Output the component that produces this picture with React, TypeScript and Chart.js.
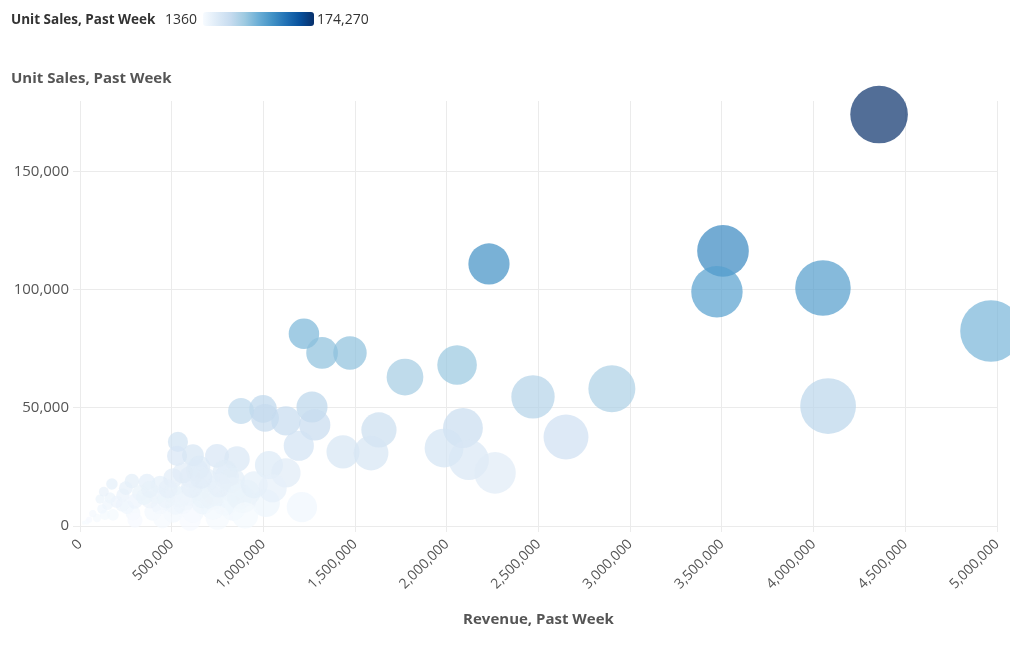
import React, { useEffect, useRef } from "react";
import { Chart, registerables } from "chart.js";

Chart.register(...registerables);

// Revenue, past week (x)
const revenue: number[] = [
  4357000, 3506000, 3473000, 4051000, 4967000, 4079000, 2230000, 1221000, 1320000, 1472000,
  1772000, 2056000, 2470000, 2900000, 2650000, 2088000, 1630000, 1985000, 2120000, 2263000,
  1434000, 1587000, 1265000, 998000, 878000, 1009000, 1123000, 1280000, 1193000, 1030000,
  1123000, 1014000, 1210000, 747000, 856000, 534000, 529000, 616000, 650000, 638000,
  790000, 174000, 283000, 365000, 436000, 507000, 600000, 690000, 800000, 830000,
  109000, 164000, 234000, 327000, 420000, 507000, 583000, 654000, 725000, 834000,
  910000, 834000, 725000, 616000, 507000, 398000, 289000, 180000, 93000, 38000,
  256000, 436000, 670000, 20000, 545000, 670000, 890000, 380000, 230000, 136000,
  520000, 790000, 50000, 70000, 120000, 150000, 200000, 300000, 350000, 470000,
  560000, 610000, 720000, 760000, 870000, 950000, 300000, 450000, 600000, 750000,
  900000, 1050000, 380000, 480000, 250000, 130000, 660000, 560000,
];

// Unit sales, past week (y)
const units: number[] = [
  174270, 116500, 99200, 100800, 82600, 50800, 111000, 81400, 73300, 73300,
  63100, 68200, 54700, 58100, 37700, 41500, 40700, 33000, 28000, 22500,
  31400, 30900, 50400, 49600, 48700, 45800, 44500, 42800, 34000, 25800,
  22500, 9700, 8000, 29700, 28400, 35600, 29700, 30000, 25000, 23700,
  22900, 17800, 19000, 18600, 17400, 20300, 20800, 19500, 20800, 19500,
  11400, 11900, 13100, 14000, 13100, 14000, 13100, 15300, 14000, 15300,
  14000, 7600, 7600, 5900, 5500, 5900, 5500, 4700, 3400, 1700,
  8000, 8900, 9700, 1360, 12300, 12300, 11000, 11000, 8900, 4700,
  9000, 9700, 2600, 5200, 7200, 9000, 10200, 10500, 12300, 11500,
  9500, 16500, 11800, 17200, 12500, 17500, 2500, 3000, 2500, 3500,
  4500, 16000, 15500, 15800, 16000, 14500, 20500, 22500,
];

const yTickValues: number[] = [0, 50000, 100000, 150000];
const xMin = 0;
const xMax = 5000000;
const xStep = 500000;
const yMin = 0;
const yMax = 180000;
const colorMin = 1360;
const colorMax = 174270;

const BLUES = [
  "#f7fbff", "#deebf7", "#c6dbef", "#9ecae1", "#6baed6",
  "#4292c6", "#2171b5", "#08519c", "#08306b",
];

function hexToRgb(h: string): number[] {
  const n = parseInt(h.slice(1), 16);
  return [(n >> 16) & 255, (n >> 8) & 255, n & 255];
}

function blues(v: number, alpha: number): string {
  let t = (v - colorMin) / (colorMax - colorMin);
  t = Math.max(0, Math.min(1, t));
  const pos = t * (BLUES.length - 1);
  const i = Math.min(BLUES.length - 2, Math.floor(pos));
  const f = pos - i;
  const a = hexToRgb(BLUES[i]);
  const b = hexToRgb(BLUES[i + 1]);
  const c = a.map((x, k) => Math.round(x + (b[k] - x) * f));
  return `rgba(${c[0]},${c[1]},${c[2]},${alpha})`;
}

const fmt = (v: number) => Number(v).toLocaleString("en-US");

const FONT = "'Open Sans', sans-serif";

export default function App() {
  const ref = useRef<HTMLCanvasElement | null>(null);

  useEffect(() => {
    if (!ref.current) return;
    const points = revenue.map((x, i) => ({
      x,
      y: units[i],
      r: 13.8 * Math.sqrt(x / 1e6),
    }));
    const chart = new Chart(ref.current, {
      type: "bubble",
      data: {
        datasets: [
          {
            data: points,
            backgroundColor: (ctx: any) =>
              blues(ctx.raw ? ctx.raw.y : colorMin, 0.7),
            borderWidth: 0,
            clip: false as any,
          },
        ],
      },
      options: {
        animation: false,
        responsive: false,
        maintainAspectRatio: false,
        layout: { autoPadding: false, padding: { top: 101, right: 13, left: 0, bottom: 0 } },
        plugins: {
          legend: { display: false },
          tooltip: { enabled: false },
        },
        scales: {
          x: {
            type: "linear",
            min: xMin,
            max: xMax,
            border: { display: false },
            grid: { color: "#ebebeb", tickLength: 6 },
            ticks: {
              stepSize: xStep,
              minRotation: 45,
              maxRotation: 45,
              padding: 4,
              color: "#555",
              font: { family: FONT, size: 14 },
              callback: (v: any) => fmt(v),
            },
            title: {
              display: true,
              text: "Revenue, Past Week",
              color: "#555",
              font: { family: FONT, size: 15, weight: "bold" },
              padding: { top: 0, bottom: 21 },
            },
            afterFit: (s: any) => {
              s.height = 650 - 526;
              s.paddingLeft = 0;
              s.paddingRight = 0;
              s.paddingTop = 0;
              s.paddingBottom = 0;
            },
          },
          y: {
            type: "linear",
            min: yMin,
            max: yMax,
            border: { display: false },
            grid: { color: "#ebebeb", tickLength: 7 },
            ticks: {
              padding: 4,
              color: "#555",
              font: { family: FONT, size: 15 },
              callback: (v: any) => fmt(v),
            },
            afterBuildTicks: (s: any) => {
              s.ticks = yTickValues.map((value) => ({ value }));
            },
            afterFit: (s: any) => {
              s.width = 80;
              s.paddingLeft = 0;
              s.paddingRight = 0;
              s.paddingTop = 0;
              s.paddingBottom = 0;
            },
          },
        },
      } as any,
    });
    return () => chart.destroy();
  }, []);

  const gradient = `linear-gradient(to right, ${BLUES.join(", ")})`;
  const legendText: React.CSSProperties = {
    position: "absolute",
    top: 0,
    height: 22,
    lineHeight: "22px",
    fontFamily: FONT,
    color: "#333",
    whiteSpace: "nowrap",
  };

  return (
    <div style={{ position: "relative", width: 1004, height: 634 }}>
      <canvas
        ref={ref}
        width={1010}
        height={650}
        style={{ position: "absolute", left: -8, top: -8, width: 1010, height: 650 }}
      />
      <div style={{ position: "absolute", left: -8, top: -8, width: 1012, height: 40 }}>
        <span style={{ ...legendText, left: 11, top: 8, fontSize: 13.5, fontWeight: 700 }}>
          Unit Sales, Past Week
        </span>
        <span style={{ ...legendText, left: 165, top: 8, fontSize: 14 }}>
          {String(colorMin)}
        </span>
        <span
          style={{
            position: "absolute",
            left: 203,
            top: 12,
            width: 111,
            height: 14,
            borderRadius: 3,
            background: gradient,
          }}
        />
        <span style={{ ...legendText, left: 317, top: 8, fontSize: 14 }}>
          {fmt(colorMax)}
        </span>
      </div>
      <div
        style={{
          position: "absolute",
          left: 3,
          top: 59,
          fontFamily: FONT,
          fontSize: 15,
          fontWeight: 700,
          color: "#555",
          whiteSpace: "nowrap",
        }}
      >
        Unit Sales, Past Week
      </div>
    </div>
  );
}
